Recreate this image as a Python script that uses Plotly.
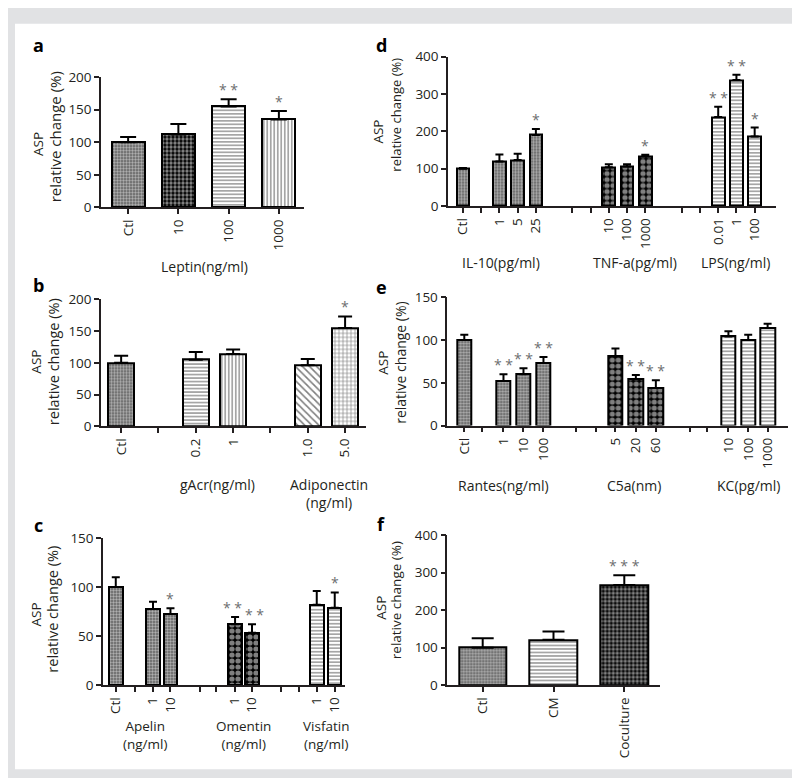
import plotly.graph_objects as go

W, H = 800, 778
FONT = "Open Sans"
INK = "#231f20"
STAR = "#6d6e70"

# ---------------- data ----------------
a_labels = ["Ctl", "10", "100", "1000"]
a_values = [100, 112, 155, 135]
a_errors = [8, 16, 11, 13]
a_stars = ["", "", "* *", "*"]
a_fills = ["dots", "fcheck", "hline", "vline"]

b_labels = ["Ctl", "0.2", "1", "1.0", "5.0"]
b_values = [100, 105, 114, 96, 155]
b_errors = [11, 12, 7, 10, 18]
b_stars = ["", "", "", "", "*"]
b_fills = ["dots", "hline", "vline", "diag", "grid"]

c_labels = ["Ctl", "1", "10", "1", "10", "1", "10"]
c_values = [100, 77.5, 72.5, 62, 53.5, 82, 79]
c_errors = [10, 7.5, 6, 7.5, 8.5, 14, 15.5]
c_stars = ["", "", "*", "* *", "* *", "", "*"]
c_fills = ["dots", "dots", "dots", "check", "check", "hline", "hline"]

d_labels = ["Ctl", "1", "5", "25", "10", "100", "1000", "0.01", "1", "100"]
d_values = [100, 119, 123, 190, 104, 106, 133, 238, 337, 186]
d_errors = [2, 19, 17, 16, 8, 6, 4, 28, 14, 24]
d_stars = ["", "", "", "*", "", "", "*", "* *", "* *", "*"]
d_fills = ["dots"] * 4 + ["check"] * 3 + ["hline"] * 3

e_labels = ["Ctl", "1", "10", "100", "5", "20", "60", "10", "100", "1000"]
e_values = [100, 52, 60, 73, 81, 54, 44, 104, 100, 114]
e_errors = [6, 8, 7, 7, 9, 5, 9, 6, 6, 5]
e_stars = ["", "* *", "* *", "* *", "", "* *", "* *", "", "", ""]
e_fills = ["dots"] * 4 + ["check"] * 3 + ["hline"] * 3

f_labels = ["Ctl", "CM", "Coculture"]
f_values = [100, 121, 267]
f_errors = [25.5, 22, 26.5]
f_stars = ["", "", "* * *"]
f_fills = ["dots", "hline", "fcheck"]

# ---------------- layout of panels ----------------
PAT = {
    "dots":   dict(shape=".", size=3, solidity=0.5, fgcolor="white", bgcolor="#606060"),
    "check":  dict(shape=".", size=6, solidity=0.6, fgcolor="white", bgcolor="black"),
    "fcheck": dict(shape=".", size=4, solidity=0.55, fgcolor="white", bgcolor="black"),
    "hline":  dict(shape="-", size=3.5, solidity=0.35, fgcolor="black", bgcolor="white"),
    "vline":  dict(shape="|", size=3.5, solidity=0.35, fgcolor="black", bgcolor="white"),
    "diag":   dict(shape="\\", size=5, solidity=0.32, fgcolor="black", bgcolor="white"),
    "grid":   dict(shape="+", size=4, solidity=0.3, fgcolor="black", bgcolor="white"),
}

# small horizontal nudges (px) for crowded star labels
c_star_shift = [0, 0, 0, -3, 3, 0, 0]

panels = [
    dict(key="a", labels=a_labels, values=a_values, errors=a_errors, stars=a_stars, fills=a_fills,
         pos=[0, 1, 2, 3], gaps=[], xr=[-0.54, 3.5], box=(93, 61.5, 296, 195),
         ymax=200, ydt=50, bw=0.66, cap=8, sshift=None),
    dict(key="b", labels=b_labels, values=b_values, errors=b_errors, stars=b_stars, fills=b_fills,
         pos=[0, 2, 3, 5, 6], gaps=[1, 4], xr=[-0.54, 6.56], box=(93, 289, 358, 419),
         ymax=200, ydt=50, bw=0.7, cap=7, sshift=None),
    dict(key="c", labels=c_labels, values=c_values, errors=c_errors, stars=c_stars, fills=c_fills,
         pos=[0, 2.07, 3.04, 6.63, 7.57, 11.17, 12.17], gaps=[1.06, 4.67, 5.59, 9.2, 10.18],
         xr=[-0.71, 12.74], box=(95, 533.3, 337, 684), ymax=150, ydt=50, bw=0.75, cap=4,
         sshift=c_star_shift),
    dict(key="d", labels=d_labels, values=d_values, errors=d_errors, stars=d_stars, fills=d_fills,
         pos=[0, 2, 3, 4, 8, 9, 10, 14, 15, 16], gaps=[1, 6, 7, 12, 13], xr=[-0.82, 17.17],
         box=(440, 40.5, 768, 193.5), ymax=400, ydt=100, bw=0.7, cap=4, sshift=None),
    dict(key="e", labels=e_labels, values=e_values, errors=e_errors, stars=e_stars, fills=e_fills,
         pos=[0, 1.96, 2.96, 3.96, 7.56, 8.58, 9.58, 13.21, 14.2, 15.17],
         gaps=[0.9, 5.6, 6.6, 11.27, 12.15], xr=[-0.85, 16.19],
         box=(439.3, 286.7, 780, 418.3), ymax=150, ydt=50, bw=0.72, cap=4, sshift=None),
    dict(key="f", labels=f_labels, values=f_values, errors=f_errors, stars=f_stars, fills=f_fills,
         pos=[0, 1, 2], gaps=[], xr=[-0.5, 2.5], box=(439.3, 530.5, 651.7, 684),
         ymax=400, ydt=100, bw=0.67, cap=11, sshift=None),
]

fig = go.Figure()
annotations = []

for i, p in enumerate(panels):
    n = "" if i == 0 else str(i + 1)
    xa, ya = "x" + n, "y" + n
    for fill in dict.fromkeys(p["fills"]):
        idx = [k for k, f in enumerate(p["fills"]) if f == fill]
        fig.add_trace(go.Bar(
            x=[p["pos"][k] for k in idx],
            y=[p["values"][k] for k in idx],
            width=p["bw"],
            marker=dict(color="white", line=dict(color="black", width=2), pattern=PAT[fill]),
            error_y=dict(type="data", symmetric=False,
                         array=[p["errors"][k] for k in idx],
                         arrayminus=[0] * len(idx),
                         color="black", thickness=2, width=p["cap"]),
            xaxis=xa, yaxis=ya, showlegend=False, hoverinfo="skip",
        ))
    x0, y0, x1, y1 = p["box"]
    tv = list(p["pos"]) + list(p["gaps"])
    tt = list(p["labels"]) + [""] * len(p["gaps"])
    axis_common = dict(showline=True, linewidth=1.5, linecolor=INK, ticks="outside",
                       ticklen=5, tickwidth=1.5, tickcolor=INK, showgrid=False,
                       zeroline=False, fixedrange=True,
                       tickfont=dict(family=FONT, size=13.5, color=INK))
    fig.update_layout(**{
        "xaxis" + n: dict(domain=[x0 / W, x1 / W], range=p["xr"], anchor=ya,
                          tickmode="array", tickvals=tv, ticktext=tt, tickangle=-90,
                          **axis_common),
        "yaxis" + n: dict(domain=[1 - y1 / H, 1 - y0 / H], range=[0, p["ymax"]], anchor=xa,
                          tickmode="linear", tick0=0, dtick=p["ydt"], **axis_common),
    })
    for k, s in enumerate(p["stars"]):
        if s:
            xs = p["sshift"][k] if p["sshift"] else 0
            annotations.append(dict(x=p["pos"][k], y=p["values"][k] + p["errors"][k],
                                    xref=xa, yref=ya, text=s, showarrow=False,
                                    yanchor="bottom", xanchor="center", yshift=-1, xshift=xs,
                                    borderpad=0,
                                    font=dict(family=FONT, size=14, color=STAR)))

# text labels: (text, x px, y px, size, bold, angle)
texts = [
    ("a", 30, 29, 18, True, 0), ("d", 373, 29, 18, True, 0),
    ("b", 30, 274, 18, True, 0), ("e", 373, 276, 18, True, 0),
    ("c", 30, 520, 18, True, 0), ("f", 373, 519, 18, True, 0),
    # y titles
    ("ASP", 30, 130, 13.5, False, -90), ("relative change (%)", 46.7, 122.5, 15, False, -90),
    ("ASP", 28.3, 352.5, 13.5, False, -90), ("relative change (%)", 45, 353.3, 14.5, False, -90),
    ("ASP", 28, 611.7, 13.5, False, -90), ("relative change (%)", 45, 606.7, 14.5, False, -90),
    ("ASP", 370, 117.3, 13.5, False, -90), ("relative change (%)", 388, 100, 13, False, -90),
    ("ASP", 375, 354, 13.5, False, -90), ("relative change (%)", 393, 354, 14, False, -90),
    ("ASP", 372.7, 605, 13.5, False, -90), ("relative change (%)", 388.3, 596.7, 13.5, False, -90),
    # x titles
    ("Leptin(ng/ml)", 196, 255, 14, False, 0),
    ("gAcr(ng/ml)", 209, 479, 14, False, 0),
    ("Adiponectin<br>(ng/ml)", 321, 488, 14, False, 0),
    ("Apelin<br>(ng/ml)", 136.7, 734.5, 13.5, False, 0),
    ("Omentin<br>(ng/ml)", 235, 734.5, 13.5, False, 0),
    ("Visfatin<br>(ng/ml)", 317.5, 734.5, 13.5, False, 0),
    ("IL-10(pg/ml)", 493.3, 251.7, 14, False, 0),
    ("TNF-a(pg/ml)", 626.7, 251.7, 14, False, 0),
    ("LPS(ng/ml)", 727.2, 251.7, 14, False, 0),
    ("Rantes(ng/ml)", 495.8, 479.3, 14, False, 0),
    ("C5a(nm)", 626.3, 479.3, 14, False, 0),
    ("KC(pg/ml)", 740.8, 479.3, 14, False, 0),
]
for t, x, y, s, bold, ang in texts:
    annotations.append(dict(x=x / W, y=1 - y / H, xref="paper", yref="paper",
                            text="<b>%s</b>" % t if bold else t, showarrow=False,
                            xanchor="center", yanchor="middle", textangle=ang,
                            font=dict(family=FONT, size=s, color=INK if not bold else "black")))

fig.update_layout(
    width=W, height=H, margin=dict(l=0, r=0, t=0, b=0),
    paper_bgcolor="#e1e2e4", plot_bgcolor="rgba(0,0,0,0)",
    barmode="overlay", bargap=0,
    annotations=annotations,
    shapes=[dict(type="rect", xref="paper", yref="paper", x0=7 / W, x1=793 / W,
                 y0=1 - 770 / H, y1=1 - 7 / H, fillcolor="white", line=dict(width=0),
                 layer="below")],
    font=dict(family=FONT, color=INK),
)

fig.write_html("out.html")
